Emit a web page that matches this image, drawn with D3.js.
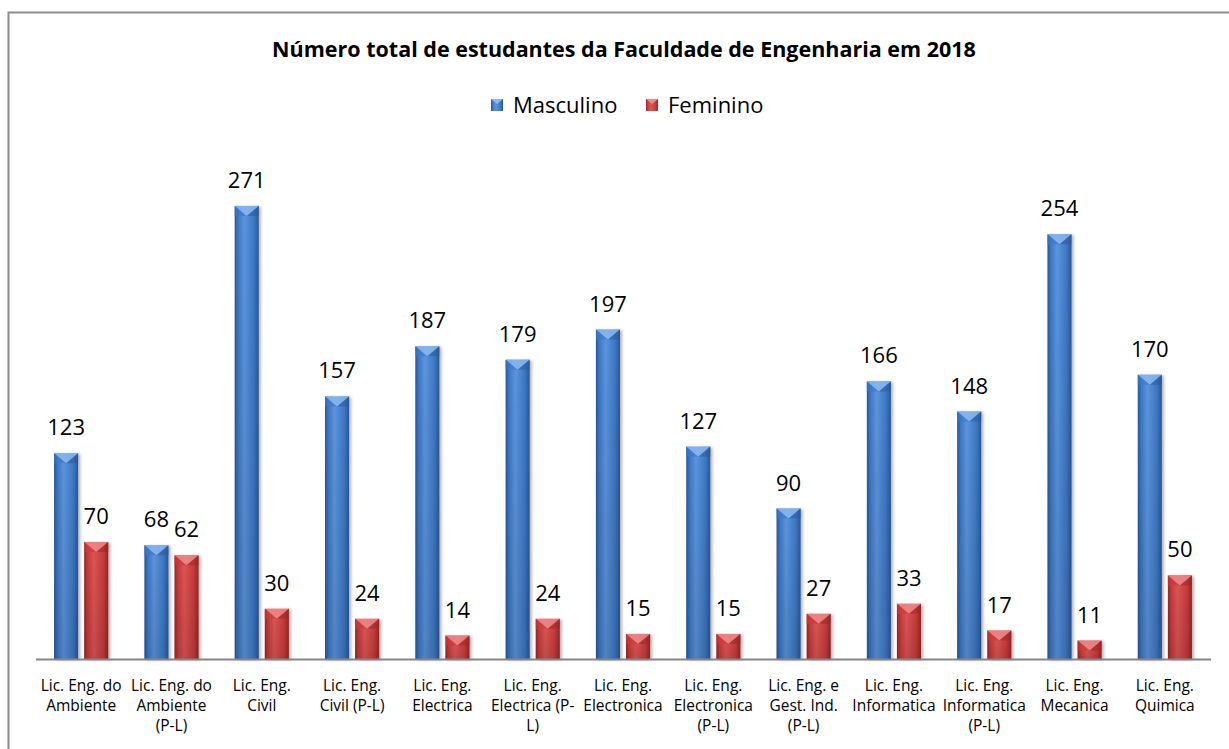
<!DOCTYPE html>
<html>
<head>
<meta charset="utf-8">
<script src="https://cdn.jsdelivr.net/npm/d3@7"></script>
<style>
  html, body { margin: 0; padding: 0; background: #fff; }
  svg { display: block; }
  text { font-family: "Open Sans", "DejaVu Sans", sans-serif; fill: #000; }
</style>
</head>
<body>
<svg id="chart" width="1229" height="749"></svg>
<script>
// --- Data ---
const categories = [
  'Lic. Eng. do\nAmbiente',
  'Lic. Eng. do\nAmbiente\n(P-L)',
  'Lic. Eng.\nCivil',
  'Lic. Eng.\nCivil (P-L)',
  'Lic. Eng.\nElectrica',
  'Lic. Eng.\nElectrica (P-\nL)',
  'Lic. Eng.\nElectronica',
  'Lic. Eng.\nElectronica\n(P-L)',
  'Lic. Eng. e\nGest. Ind.\n(P-L)',
  'Lic. Eng.\nInformatica',
  'Lic. Eng.\nInformatica\n(P-L)',
  'Lic. Eng.\nMecanica',
  'Lic. Eng.\nQuimica'
];
const seriesNames = ['Masculino', 'Feminino'];
const masculino = [123, 68, 271, 157, 187, 179, 197, 127, 90, 166, 148, 254, 170];
const feminino  = [70, 62, 30, 24, 14, 24, 15, 15, 27, 33, 17, 11, 50];
const title = 'Número total de estudantes da Faculdade de Engenharia em 2018';

const series = [masculino, feminino];
const palette = [
  { dark: '#2a5796', mid: '#3b78c6', light: '#5d95dc', tip: '#8ab8f0' },
  { dark: '#972626', mid: '#c93a3a', light: '#dc5656', tip: '#f08a8a' }
];

const svg = d3.select('#chart');
const defs = svg.append('defs');

// horizontal shading for the bevelled bars
palette.forEach((c, i) => {
  const g = defs.append('linearGradient').attr('id', 'body' + i)
    .attr('x1', 0).attr('x2', 1).attr('y1', 0).attr('y2', 0);
  g.append('stop').attr('offset', '0%').attr('stop-color', c.dark);
  g.append('stop').attr('offset', '14%').attr('stop-color', c.mid);
  g.append('stop').attr('offset', '40%').attr('stop-color', c.light);
  g.append('stop').attr('offset', '80%').attr('stop-color', c.mid);
  g.append('stop').attr('offset', '100%').attr('stop-color', c.dark);
  const v = defs.append('linearGradient').attr('id', 'shade' + i)
    .attr('x1', 0).attr('x2', 0).attr('y1', 0).attr('y2', 1);
  v.append('stop').attr('offset', '0%').attr('stop-color', '#000').attr('stop-opacity', 0);
  v.append('stop').attr('offset', '100%').attr('stop-color', '#000').attr('stop-opacity', 0.12);
});
const sh = defs.append('filter').attr('id', 'shadow')
  .attr('x', '-20%').attr('y', '-5%').attr('width', '150%').attr('height', '115%');
sh.append('feDropShadow').attr('dx', 2).attr('dy', 1).attr('stdDeviation', 1.5)
  .attr('flood-color', '#000').attr('flood-opacity', 0.3);

// --- Frame ---
svg.append('path')
  .attr('d', 'M8.5,749 L8.5,12.5 L1229,12.5')
  .attr('fill', 'none').attr('stroke', '#8c8c8c').attr('stroke-width', 2);

// --- Scales ---
const x0 = d3.scaleBand().domain(d3.range(categories.length))
  .range([36, 1210]).paddingInner(0.4).paddingOuter(0.2);
const x1 = d3.scaleBand().domain(d3.range(series.length))
  .range([0, x0.bandwidth()]).paddingInner(0.2);
const y = d3.scaleLinear().domain([0, 300]).range([659, 157.4]);

// --- Bars ---
const bw = x1.bandwidth();
const groups = svg.append('g').selectAll('g')
  .data(categories.map((c, i) => i)).join('g')
  .attr('transform', i => `translate(${x0(i)},0)`);

groups.each(function (ci) {
  const g = d3.select(this);
  series.forEach((s, si) => {
    const v = s[ci];
    const bx = x1(si);
    const top = y(v);
    const h = y(0) - top;
    const bar = g.append('g').attr('filter', 'url(#shadow)');
    bar.append('rect').attr('x', bx).attr('y', top).attr('width', bw).attr('height', h)
      .attr('fill', `url(#body${si})`);
    bar.append('rect').attr('x', bx).attr('y', top).attr('width', bw).attr('height', h)
      .attr('fill', `url(#shade${si})`);
    // bevel on top
    const tb = Math.min(10, h);
    bar.append('path')
      .attr('d', `M${bx},${top} L${bx + bw},${top} L${bx + bw / 2},${top + tb} Z`)
      .attr('fill', palette[si].tip).attr('opacity', 0.85);
    bar.append('path')
      .attr('d', `M${bx},${top} L${bx + bw / 2},${top + tb} L${bx},${top + tb} Z`)
      .attr('fill', palette[si].mid).attr('opacity', 0.6);
    bar.append('path')
      .attr('d', `M${bx + bw},${top} L${bx + bw / 2},${top + tb} L${bx + bw},${top + tb} Z`)
      .attr('fill', palette[si].dark).attr('opacity', 0.5);
    // value label
    g.append('text')
      .attr('x', bx + bw / 2).attr('y', top - 18)
      .attr('text-anchor', 'middle').attr('font-size', 22)
      .text(v);
  });
});

// --- Axis ---
svg.append('line')
  .attr('x1', 36).attr('x2', 1211).attr('y1', y(0) + 0.5).attr('y2', y(0) + 0.5)
  .attr('stroke', '#868686').attr('stroke-width', 2);

// category labels
const labels = svg.append('g').selectAll('text')
  .data(categories).join('text')
  .attr('text-anchor', 'middle').attr('font-size', 15.5)
  .attr('x', (d, i) => x0(i) + x0.bandwidth() / 2)
  .attr('y', 691);
labels.each(function (d) {
  const t = d3.select(this);
  d.split('\n').forEach((line, k) => {
    t.append('tspan').attr('x', t.attr('x')).attr('dy', k === 0 ? 0 : 20).text(line);
  });
});

// --- Title ---
svg.append('text')
  .attr('x', 624).attr('y', 57)
  .attr('text-anchor', 'middle').attr('font-size', 21.5).attr('font-weight', 700)
  .text(title);

// --- Legend ---
const legendX = [491, 646];
const legend = svg.append('g').selectAll('g').data(seriesNames).join('g')
  .attr('transform', (d, i) => `translate(${legendX[i]},99)`);
legend.append('rect').attr('width', 12).attr('height', 12)
  .attr('fill', (d, i) => `url(#body${i})`);
legend.append('path').attr('d', 'M0,0 L12,0 L6,5 Z')
  .attr('fill', (d, i) => palette[i].tip);
legend.append('text').attr('x', 22).attr('y', 14)
  .attr('font-size', 22).text(d => d);
</script>
</body>
</html>
